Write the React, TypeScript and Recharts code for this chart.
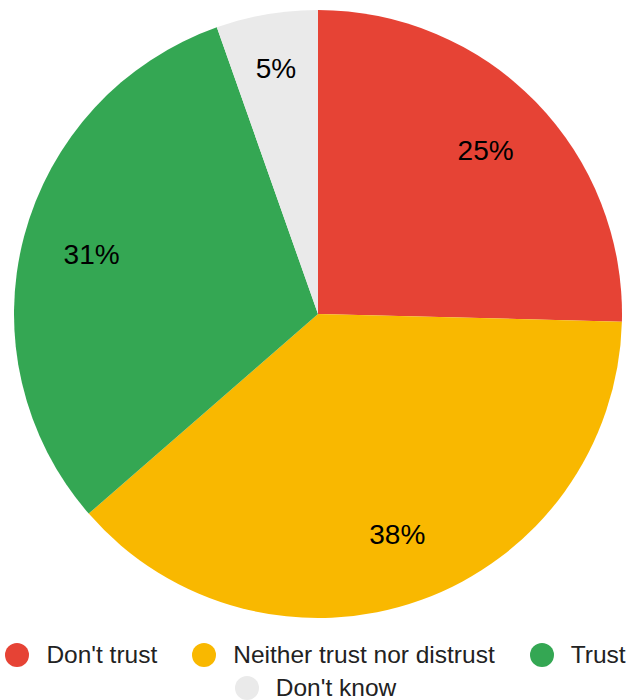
import { Cell, Legend, Pie, PieChart } from "recharts";

const categories = ["Don't trust", "Neither trust nor distrust", "Trust", "Don't know"];
const shares = [25.4, 38.2, 31.0, 5.4];
const colors = ["#E64335", "#F9B800", "#34A753", "#EAEAEA"];

const data = categories.map((name, i) => ({ name, value: shares[i] }));

const FONT = "'Liberation Sans', Arial, Helvetica, sans-serif";
const RADIAN = Math.PI / 180;

const renderLabel = (props: any) => {
  const { cx, cy, midAngle, outerRadius, percent } = props;
  // small slices get their label pushed a bit further out
  const r = outerRadius * (percent < 0.1 ? 0.82 : 0.77);
  const x = cx + r * Math.cos(-midAngle * RADIAN);
  const y = cy + r * Math.sin(-midAngle * RADIAN);
  return (
    <text
      x={x}
      y={y}
      fill="#000"
      fontSize={28}
      fontFamily={FONT}
      textAnchor="middle"
      dominantBaseline="central"
    >
      {`${Math.round(percent * 100)}%`}
    </text>
  );
};

// legend keeps the data order (recharts would sort it by name)
const renderLegend = () => (
  <div
    style={{
      display: "flex",
      flexWrap: "wrap",
      justifyContent: "center",
      columnGap: 35,
      rowGap: 0,
      width: 631,
      fontFamily: FONT,
      fontSize: 24.5,
      lineHeight: "28px",
      color: "#222",
    }}
  >
    {categories.map((name, i) => (
      <div
        key={name}
        style={{ display: "flex", alignItems: "center", height: 33, whiteSpace: "nowrap" }}
      >
        <span
          style={{
            width: 24,
            height: 24,
            borderRadius: "50%",
            background: colors[i],
            marginRight: 17,
            display: "inline-block",
          }}
        />
        <span>{name}</span>
      </div>
    ))}
  </div>
);

export default function App() {
  return (
    <div
      style={{
        position: "absolute",
        top: 0,
        left: 0,
        width: 631,
        height: 700,
        background: "#fff",
        overflow: "hidden",
      }}
    >
      <PieChart
        width={631}
        height={700}
        margin={{ top: 0, right: 0, bottom: 0, left: 0 }}
        style={{ overflow: "hidden" }}
      >
        <Pie
          data={data}
          dataKey="value"
          nameKey="name"
          cx={318}
          cy={314}
          outerRadius={304}
          startAngle={90}
          endAngle={-270}
          stroke="none"
          label={renderLabel}
          labelLine={false}
          isAnimationActive={false}
        >
          {data.map((d, i) => (
            <Cell key={d.name} fill={colors[i]} />
          ))}
        </Pie>
        <Legend
          content={renderLegend}
          wrapperStyle={{ position: "absolute", top: 638, left: 0, width: 631 }}
        />
      </PieChart>
    </div>
  );
}
